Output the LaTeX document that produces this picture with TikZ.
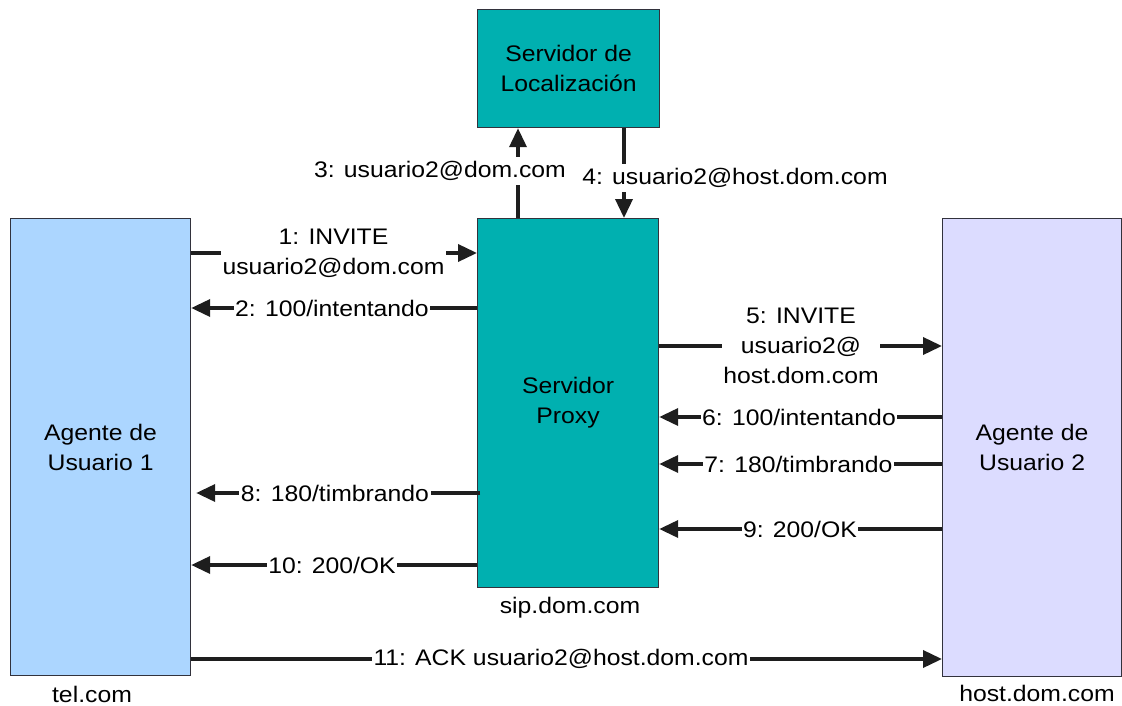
\documentclass[tikz,border=0pt]{standalone}
\usepackage{fontspec}
\setmainfont{Liberation Sans}[FakeStretch=1.1]
\usetikzlibrary{arrows.meta}
\definecolor{uaone}{RGB}{172,214,255}
\definecolor{uatwo}{RGB}{220,220,255}
\definecolor{srv}{RGB}{0,176,176}
\definecolor{edge}{RGB}{50,50,60}
\definecolor{ink}{RGB}{30,30,30}
\tikzset{
  box/.style={draw=edge, line width=1.2pt, anchor=north west, inner sep=0pt,
    align=center, text=black},
  msg/.style={draw=ink, line width=3.6pt,
    -{Triangle[length=19pt,width=17pt]}},
  lbl/.style={fill=white, inner xsep=1.5pt, inner ysep=4pt, align=center,
    text=black},
  hostname/.style={text=black},
}
\begin{document}
\begin{tikzpicture}[x=1pt,y=-1pt,font=\fontsize{22.5}{30}\selectfont]
\useasboundingbox (0,0) rectangle (1122,706);

% boxes
\node[box, fill=uaone, minimum width=180pt, minimum height=457pt] (ua1) at (10,218) {};
\node[align=center] at (ua1.center) {Agente de\\Usuario 1};
\node[box, fill=uatwo, minimum width=179pt, minimum height=458pt] (ua2) at (942,218) {};
\node[align=center] at (ua2.center) {Agente de\\Usuario 2};
\node[box, fill=srv, minimum width=181pt, minimum height=369pt] (proxy) at (477,218) {};
\node[align=center] at (proxy.center) {Servidor\\Proxy};
\node[box, fill=srv, minimum width=182pt, minimum height=118pt] (loc) at (477,9) {};
\node[align=center] at (loc.center) {Servidor de\\Localización};

% host names
\node[hostname] (tel) at (92,694) {tel.com};
\node[hostname] (host) at (1037,693) {host.dom.com};
\node[hostname] (sip) at (570,608) {sip.dom.com};

% location queries
\draw[msg] (proxy.north -| 518,0) -- (loc.south -| 518,0);
\node[lbl] (m3) at (440,171) {3: usuario2@dom.com};
\draw[msg] (loc.south -| 624,0) -- (proxy.north -| 624,0);
\node[lbl] (m4) at (735,178) {4: usuario2@host.dom.com};

% user agent 1 <-> proxy
\draw[msg] (ua1.east |- 0,253) -- (proxy.west |- 0,253);
\node[lbl] (m1) at (333.5,253) {1: INVITE\\usuario2@dom.com};
\draw[msg] (proxy.west |- 0,308) -- (ua1.east |- 0,308);
\node[lbl] (m2) at (332,308) {2: 100/intentando};
\draw[msg] ([xshift=3pt]proxy.west |- 0,493) -- ([xshift=5pt]ua1.east |- 0,493);
\node[lbl] (m8) at (335,493) {8: 180/timbrando};
\draw[msg] (proxy.west |- 0,565) -- (ua1.east |- 0,565);
\node[lbl] (m10) at (332,565) {10: 200/OK};

% proxy <-> user agent 2
\draw[msg] (proxy.east |- 0,346) -- (ua2.west |- 0,346);
\node[lbl] (m5) at (801,346) {5: INVITE\\usuario2@\\host.dom.com};
\draw[msg] (ua2.west |- 0,417) -- (proxy.east |- 0,417);
\node[lbl] (m6) at (799,417) {6: 100/intentando};
\draw[msg] (ua2.west |- 0,464) -- (proxy.east |- 0,464);
\node[lbl] (m7) at (798.5,464) {7: 180/timbrando};
\draw[msg] (ua2.west |- 0,529) -- (proxy.east |- 0,529);
\node[lbl] (m9) at (800,529) {9: 200/OK};

% end-to-end acknowledgement
\draw[msg] (ua1.east |- 0,659) -- (ua2.west |- 0,659);
\node[lbl] (m11) at (561,659) {11: ACK usuario2@host.dom.com};
\end{tikzpicture}
\end{document}
